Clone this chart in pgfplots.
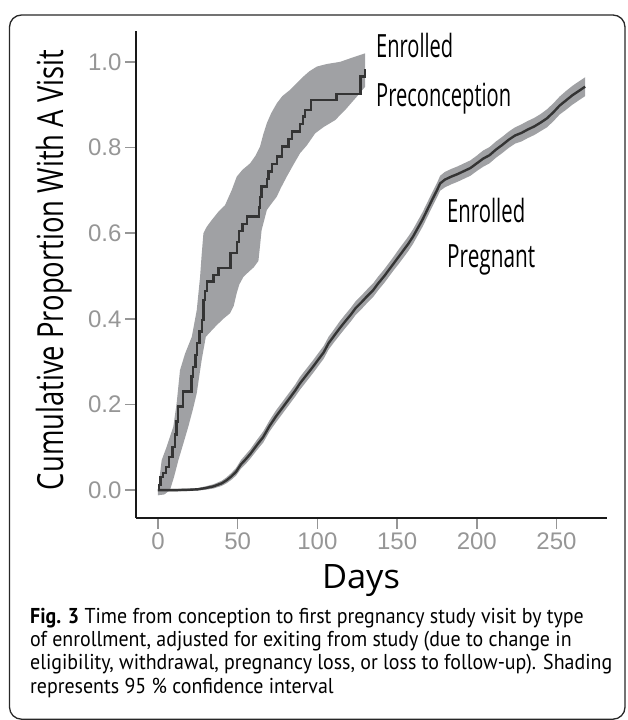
\documentclass[border=0pt]{standalone}
\usepackage{fontspec}
\setmainfont{Open Sans}
\newfontfamily\tickfont{Liberation Sans}
\newfontfamily\capfont{PT Sans}
\usepackage{graphicx}
\usepackage{pgfplots}
\pgfplotsset{compat=1.18}
\usepackage{pgfplotstable}
\definecolor{bandgray}{RGB}{160,161,164}
\definecolor{curvegray}{RGB}{52,52,52}
\definecolor{ticklab}{RGB}{150,150,150}
\definecolor{framegray}{RGB}{40,40,40}

% Enrolled preconception: step curve (day, cumulative proportion)
\pgfplotstableread{
d v
0 0
0.5 0.012
1.5 0.031
3 0.040
5 0.054
7 0.078
9 0.101
10.5 0.130
11.5 0.160
12.5 0.195
15.5 0.230
21 0.265
22 0.288
23.5 0.315
24.5 0.343
26 0.370
27.5 0.397
28.5 0.444
29.5 0.465
30.6 0.487
34.8 0.502
37.9 0.518
45.5 0.553
49.5 0.580
51 0.605
53 0.622
55.7 0.639
63.5 0.660
64 0.685
65 0.709
68.5 0.727
69.3 0.744
71.5 0.762
74.5 0.779
77.7 0.802
82 0.820
84 0.837
89.2 0.855
91 0.872
92.3 0.888
96 0.911
112 0.925
127 0.966
130 0.983
}\precmid
% Preconception 95% band: lower bound (forward) then upper bound (backward)
\pgfplotstableread{
d v
0 -0.012
4 -0.010
7.5 0.000
10 0.030
12.8 0.070
16 0.110
19 0.148
22 0.190
24.3 0.226
27.4 0.304
30 0.358
33 0.370
36.8 0.385
41 0.400
45.2 0.413
47.5 0.430
49.4 0.460
51 0.480
53.6 0.498
57 0.510
60 0.520
63 0.535
64 0.570
65 0.607
68.3 0.654
71 0.668
74.5 0.685
77 0.705
80.8 0.732
85 0.760
89.2 0.787
93.4 0.805
98.6 0.833
104 0.848
111.2 0.864
118 0.890
124.8 0.919
130 0.942
130 1.020
122 1.010
114.3 1.000
106 0.995
99.7 0.989
95 0.978
91.3 0.966
87 0.950
83 0.935
78 0.920
74.5 0.903
71 0.880
68.3 0.857
66 0.830
64 0.802
61 0.780
57.8 0.763
53 0.748
49.4 0.732
46.3 0.701
42 0.665
37.9 0.650
34 0.632
30.6 0.615
28.5 0.600
27.4 0.550
26.4 0.498
24.3 0.420
21.2 0.358
17 0.319
13.8 0.280
11.7 0.203
9.6 0.148
5.4 0.101
2.3 0.070
1 0.030
0 0.000
}\precband

% Enrolled pregnant: day, estimate
\pgfplotstableread{
d v
0 0
10 0
20 0.001
25 0.002
30 0.005
35 0.009
40 0.016
43 0.023
46 0.032
49 0.043
52 0.060
55 0.072
58 0.085
62 0.105
66 0.124
70 0.150
74 0.172
78 0.192
82 0.212
86 0.232
89 0.249
93 0.268
97 0.287
100 0.302
104 0.322
107 0.343
110 0.358
114 0.378
117 0.392
121 0.410
124 0.425
128 0.440
131 0.452
135 0.467
138 0.482
142 0.500
145 0.515
148 0.530
151 0.545
154 0.560
157 0.575
160 0.592
163 0.612
166 0.632
169 0.655
172 0.678
175 0.700
177 0.716
180 0.725
184 0.732
188 0.738
192 0.745
196 0.752
200 0.763
204 0.774
208 0.782
212 0.795
216 0.806
220 0.818
224 0.828
228 0.834
232 0.842
236 0.849
240 0.858
244 0.868
248 0.882
252 0.898
256 0.910
260 0.922
264 0.932
268 0.942
}\preg
% Pregnant 95% band: lower (forward) then upper (backward)
\pgfplotstableread{
d v
0 -0.003
10 -0.003
20 -0.002
25 -0.001
30 0.001
35 0.004
40 0.010
43 0.016
46 0.024
49 0.034
52 0.050
55 0.061
58 0.074
62 0.093
66 0.111
70 0.137
74 0.158
78 0.178
82 0.198
86 0.218
89 0.234
93 0.253
97 0.272
100 0.287
104 0.307
107 0.328
110 0.343
114 0.362
117 0.376
121 0.394
124 0.409
128 0.424
131 0.436
135 0.451
138 0.466
142 0.484
145 0.499
148 0.514
151 0.528
154 0.543
157 0.558
160 0.575
163 0.595
166 0.615
169 0.638
172 0.661
175 0.683
177 0.699
180 0.707
184 0.714
188 0.720
192 0.727
196 0.734
200 0.745
204 0.755
208 0.763
212 0.776
216 0.787
220 0.799
224 0.809
228 0.814
232 0.822
236 0.829
240 0.838
244 0.847
248 0.861
252 0.877
256 0.888
260 0.900
264 0.910
268 0.920
268 0.964
264 0.954
260 0.944
256 0.932
252 0.919
248 0.903
244 0.889
240 0.878
236 0.869
232 0.862
228 0.854
224 0.847
220 0.837
216 0.825
212 0.814
208 0.801
204 0.793
200 0.781
196 0.770
192 0.763
188 0.756
184 0.750
180 0.743
177 0.734
175 0.717
172 0.695
169 0.672
166 0.649
163 0.629
160 0.609
157 0.592
154 0.577
151 0.562
148 0.546
145 0.531
142 0.516
138 0.498
135 0.483
131 0.468
128 0.456
124 0.441
121 0.426
117 0.408
114 0.394
110 0.373
107 0.358
104 0.337
100 0.317
97 0.302
93 0.283
89 0.264
86 0.246
82 0.226
78 0.206
74 0.186
70 0.163
66 0.137
62 0.117
58 0.096
55 0.083
52 0.070
49 0.052
46 0.040
43 0.030
40 0.022
35 0.014
30 0.009
25 0.005
20 0.004
10 0.003
0 0.003
}\pregband

\newcommand{\capsize}{\capfont\fontsize{21.5}{22}\selectfont}
\newlength{\capw}

\begin{document}%
\settowidth{\capw}{\capsize eligibility, withdrawal, pregnancy loss, or loss to follow-up). Shading}%
\pgfmathsetmacro{\capf}{582/\capw}%
\begin{tikzpicture}
\path[use as bounding box] (0pt,0pt) rectangle (627pt,720pt);
\draw[framegray, line width=1.3pt, rounded corners=12pt] (9.5pt,0.8pt) rectangle (625pt,705pt);
\begin{axis}[
  at={(136pt,202pt)}, anchor=south west,
  scale only axis, width=471pt, height=487pt,
  xmin=-13.8, xmax=281.7, ymin=-0.065, ymax=1.072,
  axis lines=left,
  axis line style={-, line width=1.8pt, black!90},
  xtick={0,50,100,150,200,250},
  ytick={0,0.2,0.4,0.6,0.8,1.0},
  tick align=outside, major tick length=11pt,
  tick style={line width=1.6pt, color=ticklab},
  ticklabel style={font=\tickfont\fontsize{24}{24}\selectfont, text=ticklab},
  /pgf/number format/assume math mode=true,
  yticklabel style={/pgf/number format/fixed, /pgf/number format/fixed zerofill, /pgf/number format/precision=1},
]
\addplot[fill=bandgray, draw=none, forget plot] table[x=d,y=v] {\precband};
\addplot[fill=bandgray, draw=none, forget plot] table[x=d,y=v] {\pregband};
\addplot[curvegray, line width=2.4pt, const plot, mark=none] table[x=d,y=v] {\precmid};
\addplot[curvegray, line width=2.4pt, mark=none] table[x=d,y=v] {\preg};
\end{axis}
\node[anchor=base west, inner sep=0pt] at (376pt,662pt) {\resizebox{77pt}{\height}{\fontsize{32}{32}\selectfont Enrolled}};
\node[anchor=base west, inner sep=0pt] at (376pt,613pt) {\resizebox{135pt}{\height}{\fontsize{32}{32}\selectfont Preconception}};
\node[anchor=base west, inner sep=0pt] at (447pt,497pt) {\resizebox{78pt}{\height}{\fontsize{32}{32}\selectfont Enrolled}};
\node[anchor=base west, inner sep=0pt] at (447pt,452pt) {\resizebox{88pt}{\height}{\fontsize{32}{32}\selectfont Pregnant}};
\node[rotate=90, anchor=base, inner sep=0pt] at (63pt,450pt) {\resizebox{440pt}{\height}{\fontsize{36}{36}\selectfont Cumulative Proportion With A Visit}};
\node[anchor=base, inner sep=0pt] at (361pt,131pt) {\resizebox{78pt}{\height}{\fontsize{33.6}{34}\selectfont Days}};
\node[anchor=base west, inner sep=0pt] at (30pt,96pt) {\scalebox{\capf}[1]{\capsize\textbf{Fig. 3} Time from conception to first pregnancy study visit by type}};
\node[anchor=base west, inner sep=0pt] at (30pt,73pt) {\scalebox{\capf}[1]{\capsize of enrollment, adjusted for exiting from study (due to change in}};
\node[anchor=base west, inner sep=0pt] at (30pt,50pt) {\scalebox{\capf}[1]{\capsize eligibility, withdrawal, pregnancy loss, or loss to follow-up). Shading}};
\node[anchor=base west, inner sep=0pt] at (30pt,27pt) {\scalebox{\capf}[1]{\capsize represents 95 \% confidence interval}};
\end{tikzpicture}%
\end{document}
